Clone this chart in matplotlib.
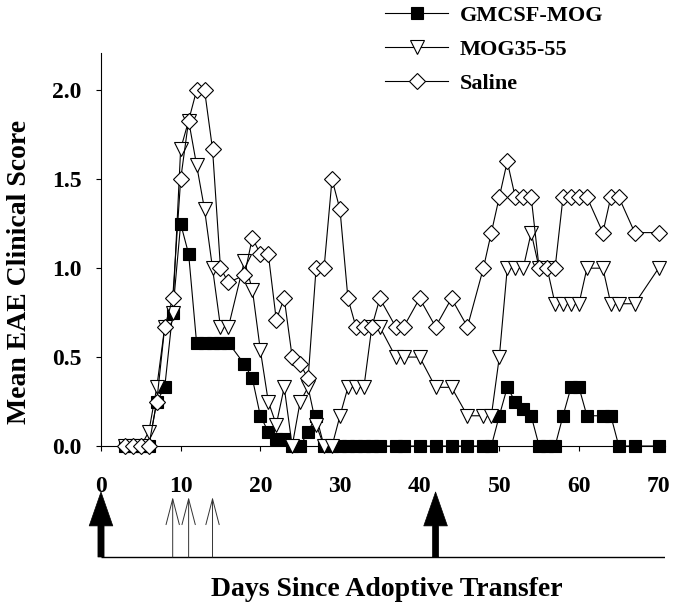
import matplotlib
matplotlib.use("Agg")
import matplotlib.pyplot as plt

plt.rcParams['font.family'] = ['Liberation Serif', 'DejaVu Serif']
plt.rcParams['font.weight'] = 'bold'

days = [3, 4, 5, 6, 7, 8, 9, 10, 11, 12, 13, 14, 15, 16,
        18, 19, 20, 21, 22, 23, 24, 25, 26, 27, 28, 29, 30, 31, 32, 33, 34, 35,
        37, 38, 40, 42, 44, 46, 48,
        49, 50, 51, 52, 53, 54, 55, 56, 57, 58, 59, 60, 61,
        63, 64, 65, 67, 70]

gmcsf_mog = [0, 0, 0, 0, 0.25, 0.33, 0.75, 1.25, 1.08, 0.58, 0.58, 0.58, 0.58, 0.58,
             0.46, 0.38, 0.17, 0.08, 0.04, 0.04, 0, 0, 0.08, 0.17, 0, 0, 0, 0, 0, 0, 0, 0,
             0, 0, 0, 0, 0, 0, 0,
             0, 0.17, 0.33, 0.25, 0.21, 0.17, 0, 0, 0, 0.17, 0.33, 0.33, 0.17,
             0.17, 0.17, 0, 0, 0]

mog35_55 = [0, 0, 0, 0.08, 0.33, 0.67, 0.75, 1.67, 1.83, 1.58, 1.33, 1.0, 0.67, 0.67,
            1.04, 0.88, 0.54, 0.25, 0.12, 0.33, 0, 0.25, 0.33, 0.12, 0, 0, 0.17, 0.33, 0.33, 0.33, 0.67, 0.67,
            0.5, 0.5, 0.5, 0.33, 0.33, 0.17, 0.17,
            0.17, 0.5, 1.0, 1.0, 1.0, 1.2, 1.0, 1.0, 0.8, 0.8, 0.8, 0.8, 1.0,
            1.0, 0.8, 0.8, 0.8, 1.0]

saline = [0, 0, 0, 0, 0.25, 0.67, 0.83, 1.5, 1.83, 2.0, 2.0, 1.67, 1.0, 0.92,
          0.96, 1.17, 1.08, 1.08, 0.71, 0.83, 0.5, 0.46, 0.38, 1.0, 1.0, 1.5, 1.33, 0.83, 0.67, 0.67, 0.67, 0.83,
          0.67, 0.67, 0.83, 0.67, 0.83, 0.67, 1.0,
          1.2, 1.4, 1.6, 1.4, 1.4, 1.4, 1.0, 1.0, 1.0, 1.4, 1.4, 1.4, 1.4,
          1.2, 1.4, 1.4, 1.2, 1.2]

# treatment days marked under the axis
transfer_days = [0, 42]
injection_days = [9, 11, 14]

xticks = [0, 10, 20, 30, 40, 50, 60, 70]
yticks = [0.0, 0.5, 1.0, 1.5, 2.0]

W, H = 685, 603
fig = plt.figure(figsize=(W / 100, H / 100), dpi=100)

x0, x1 = 101, 665
ytop, ybot = 53, 446
ax = fig.add_axes([x0 / W, 1 - ybot / H, (x1 - x0) / W, (ybot - ytop) / H])

ax.plot(days, gmcsf_mog, '-', color='black', lw=0.8, marker='s', ms=8.5,
        mfc='black', mec='black', mew=0.8, clip_on=False, zorder=3, label='GMCSF-MOG')
ax.plot(days, mog35_55, '-', color='black', lw=0.8, marker='v', ms=9.5,
        mfc='white', mec='black', mew=0.8, clip_on=False, zorder=4, label='MOG35-55')
ax.plot(days, saline, '-', color='black', lw=0.8, marker='D', ms=8.0,
        mfc='white', mec='black', mew=0.8, clip_on=False, zorder=5, label='Saline')

ax.set_xlim(0, 70.8)
ax.set_ylim(0, 2.21)
ax.set_xticks(xticks)
ax.set_yticks(yticks)
ax.set_yticklabels(['%.1f' % v for v in yticks])
for s in ['top', 'right']:
    ax.spines[s].set_visible(False)
for s in ['left', 'bottom']:
    ax.spines[s].set_linewidth(0.8)
ax.tick_params(axis='both', direction='out', length=3.8, width=0.8, labelsize=17)
ax.tick_params(axis='x', pad=18)
ax.tick_params(axis='y', pad=10)

ax.set_ylabel('Mean EAE Clinical Score', fontsize=20, fontweight='bold', va='center')
ax.yaxis.set_label_coords(-0.145, 0.443)

leg = ax.legend(loc='upper left', bbox_to_anchor=(385 / W, 1 - 5 / H),
                bbox_transform=fig.transFigure, frameon=False, fontsize=16,
                handlelength=2.85, handletextpad=0.5, labelspacing=0.62,
                borderpad=0, borderaxespad=0)

# arrow panel: y in pixel units of the figure
ax2 = fig.add_axes([x0 / W, 1 - 565 / H, (x1 - x0) / W, (565 - 470) / H])
ax2.set_xlim(0, 70.8)
ax2.set_ylim(565, 470)
ax2.axis('off')
ax2.plot([0, 70.8], [557, 557], color='black', lw=1.0, solid_capstyle='butt')
for d in transfer_days:
    ax2.annotate('', xy=(d, 492), xytext=(d, 557),
                 arrowprops=dict(arrowstyle='simple,head_length=1.22,head_width=0.85,tail_width=0.22',
                                 mutation_scale=20, fc='black', ec='black', lw=0.5,
                                 shrinkA=0, shrinkB=0))
for d in injection_days:
    ax2.annotate('', xy=(d, 497), xytext=(d, 557),
                 arrowprops=dict(arrowstyle='->,head_length=1.85,head_width=0.48',
                                 mutation_scale=10, color='#333333', lw=0.7,
                                 shrinkA=0, shrinkB=0))

fig.text((x0 + x1) / 2 / W + 0.005, 1 - 589 / H, 'Days Since Adoptive Transfer',
         fontsize=20, fontweight='bold', ha='center', va='center')

fig.savefig('out.png', dpi=100)
